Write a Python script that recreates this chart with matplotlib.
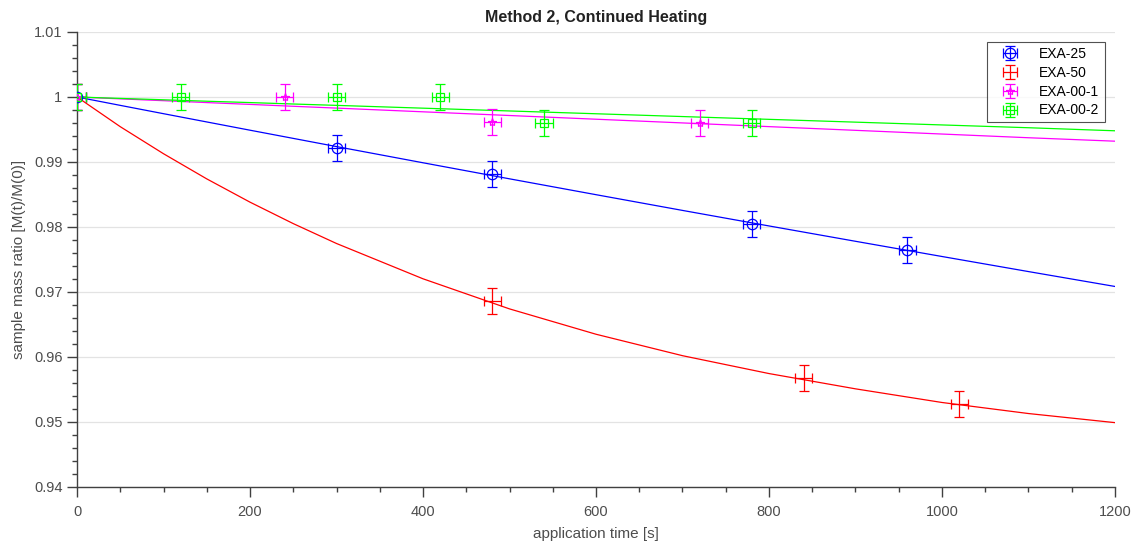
import numpy as np
import matplotlib
matplotlib.use("Agg")
import matplotlib.pyplot as plt
from matplotlib.ticker import MultipleLocator, FormatStrFormatter

plt.rcParams['font.family'] = ['Liberation Sans', 'DejaVu Sans']

# measured points (application time [s], mass ratio)
t_25 = [0, 300, 480, 780, 960]
m_25 = [1.0, 0.9922, 0.9882, 0.9804, 0.9764]
t_50 = [0, 480, 840, 1020]
m_50 = [1.0, 0.9686, 0.9567, 0.9528]
t_001 = [0, 240, 480, 720]
m_001 = [1.0, 1.0, 0.9962, 0.9960]
t_002 = [0, 120, 300, 420, 540, 780]
m_002 = [1.0, 1.0, 1.0, 1.0, 0.9960, 0.9960]

# uncertainties
t_err = 10
m_err = 0.002

# fitted curves
fit_t = [0, 50, 100, 150, 200, 250, 300, 400, 500, 600, 700, 800, 900, 1000, 1100, 1200]
fit_25 = [1.0, 0.99871, 0.99743, 0.99616, 0.99489, 0.99363, 0.99237, 0.98988, 0.98741, 0.98497, 0.98255, 0.98016, 0.9778, 0.97546, 0.97314, 0.97085]
fit_50 = [1.0, 0.99543, 0.99127, 0.98740, 0.98382, 0.98052, 0.97746, 0.97203, 0.9674, 0.96350, 0.96020, 0.95745, 0.95510, 0.95300, 0.95130, 0.94990]
fit_001 = [1.0, 0.99971, 0.99943, 0.99914, 0.99886, 0.99857, 0.99829, 0.99772, 0.99715, 0.99658, 0.99601, 0.99544, 0.99487, 0.9943, 0.99373, 0.9932]
fit_002 = [1.0, 0.99978, 0.99957, 0.99935, 0.99914, 0.99892, 0.99871, 0.99828, 0.99785, 0.99742, 0.99699, 0.99656, 0.99613, 0.9957, 0.99527, 0.9948]

series = [
    ("EXA-25", t_25, m_25, fit_25, (0, 0, 1), 'o', 7.5),
    ("EXA-50", t_50, m_50, fit_50, (1, 0, 0), 'None', 6),
    ("EXA-00-1", t_001, m_001, fit_001, (1, 0, 1), '*', 6),
    ("EXA-00-2", t_002, m_002, fit_002, (0, 1, 0), 's', 5.5),
]

fig = plt.figure(figsize=(11.36, 5.44), dpi=100)
ax = fig.add_axes([0.0678, 0.1048, 0.9137, 0.8364])

for name, t, m, fit, col, mk, ms in series:
    ax.errorbar(t, m, xerr=t_err, yerr=m_err, fmt=mk, color=col, ms=ms,
                mfc='none', mec=col, mew=0.9, elinewidth=0.9, capsize=3.8,
                capthick=0.9, label=name, zorder=3)
    ax.plot(fit_t, fit, color=col, lw=0.9, zorder=2)

ax.set_xlim(0, 1200)
ax.set_ylim(0.94, 1.01)
ax.xaxis.set_major_locator(MultipleLocator(200))
ax.xaxis.set_minor_locator(MultipleLocator(50))
ax.yaxis.set_major_locator(MultipleLocator(0.01))
ax.yaxis.set_minor_locator(MultipleLocator(0.002))
ax.yaxis.set_major_formatter(FormatStrFormatter('%g'))

ax.grid(axis='y', which='major', color='#e3e3e3', lw=0.9, zorder=0)
ax.set_axisbelow(True)
for s in ['top', 'right']:
    ax.spines[s].set_visible(False)
for s in ['left', 'bottom']:
    ax.spines[s].set_color('#404040')
    ax.spines[s].set_linewidth(1.0)
ax.tick_params(which='both', direction='out', colors='#404040', labelcolor='#4d4d4d', labelsize=10.5)
ax.tick_params(which='major', length=7, width=1.0)
ax.tick_params(which='minor', length=3.5, width=1.0)
ax.tick_params(axis='x', pad=6)

ax.set_xlabel('application time [s]', fontsize=11, color='#4d4d4d', labelpad=6)
ax.set_ylabel('sample mass ratio [M(t)/M(0)]', fontsize=11, color='#4d4d4d', labelpad=6)
ax.set_title('Method 2, Continued Heating', fontsize=11.5, fontweight='bold', color='#222222', pad=7)

leg = ax.legend(loc='upper right', bbox_to_anchor=(0.99, 0.978), fontsize=10,
                frameon=True, fancybox=False, edgecolor='#262626', borderpad=0.35,
                borderaxespad=0, handlelength=2.6, labelspacing=0.35)
leg.get_frame().set_linewidth(0.8)

fig.savefig('out.png', dpi=100)
